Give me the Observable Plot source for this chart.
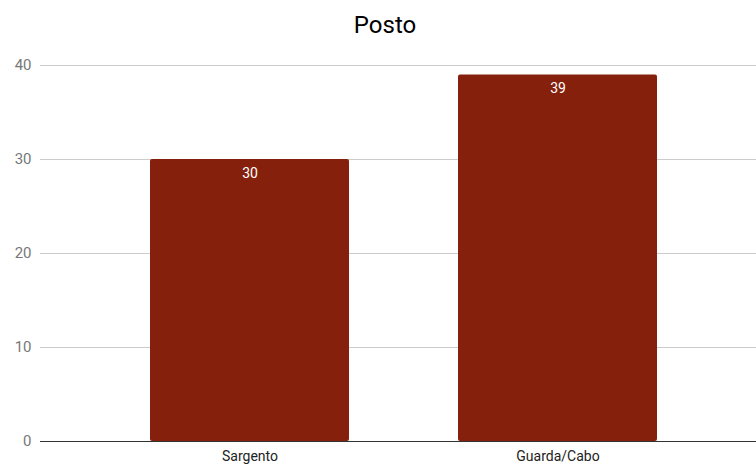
<!DOCTYPE html>
<html>
<head>
<meta charset="utf-8">
<script src="https://cdn.jsdelivr.net/npm/d3@7"></script>
<script src="https://cdn.jsdelivr.net/npm/@observablehq/plot@0.6"></script>
<style>
  html, body { margin: 0; padding: 0; background: #fff; }
  #title { height: 50px; line-height: 50px; text-align: center; font-family: Roboto, sans-serif; font-size: 24px; color: #000; padding-left: 14px; box-sizing: border-box; width: 756px; }
  svg { display: block; }
</style>
</head>
<body>
<div id="title">Posto</div>
<div id="chart"></div>
<script>
const categories = ["Sargento", "Guarda/Cabo"];
const values = [30, 39];
const yTicks = [0, 10, 20, 30, 40];

const data = categories.map((c, i) => ({ category: c, value: values[i] }));

const chart = Plot.plot({
  width: 756,
  height: 414,
  marginTop: 15,
  marginBottom: 23,
  marginLeft: 40,
  marginRight: 0,
  style: { fontFamily: "Roboto, sans-serif", background: "#fff" },
  x: { domain: categories, range: [40, 767], paddingInner: 0.353, paddingOuter: 0.353, label: null },
  y: { domain: [0, 40], label: null },
  marks: [
    Plot.ruleY(yTicks.filter(d => d > 0), { stroke: "#cccccc", strokeWidth: 1 }),
    Plot.barY(data, { x: "category", y: "value", fill: "#85200c", rx: 2 }),
    Plot.ruleY([0], { stroke: "#333", strokeWidth: 1 }),
    Plot.text(data, { x: "category", y: "value", text: d => String(d.value), dy: 14, fill: "#fff", fontSize: 14 }),
    Plot.axisY({ ticks: yTicks, tickSize: 0, tickPadding: 9, fontSize: 15, color: "#777", label: null }),
    Plot.axisX({ tickSize: 0, tickPadding: 10, fontSize: 14, color: "#222", label: null })
  ]
});
document.getElementById("chart").appendChild(chart);
</script>
</body>
</html>
